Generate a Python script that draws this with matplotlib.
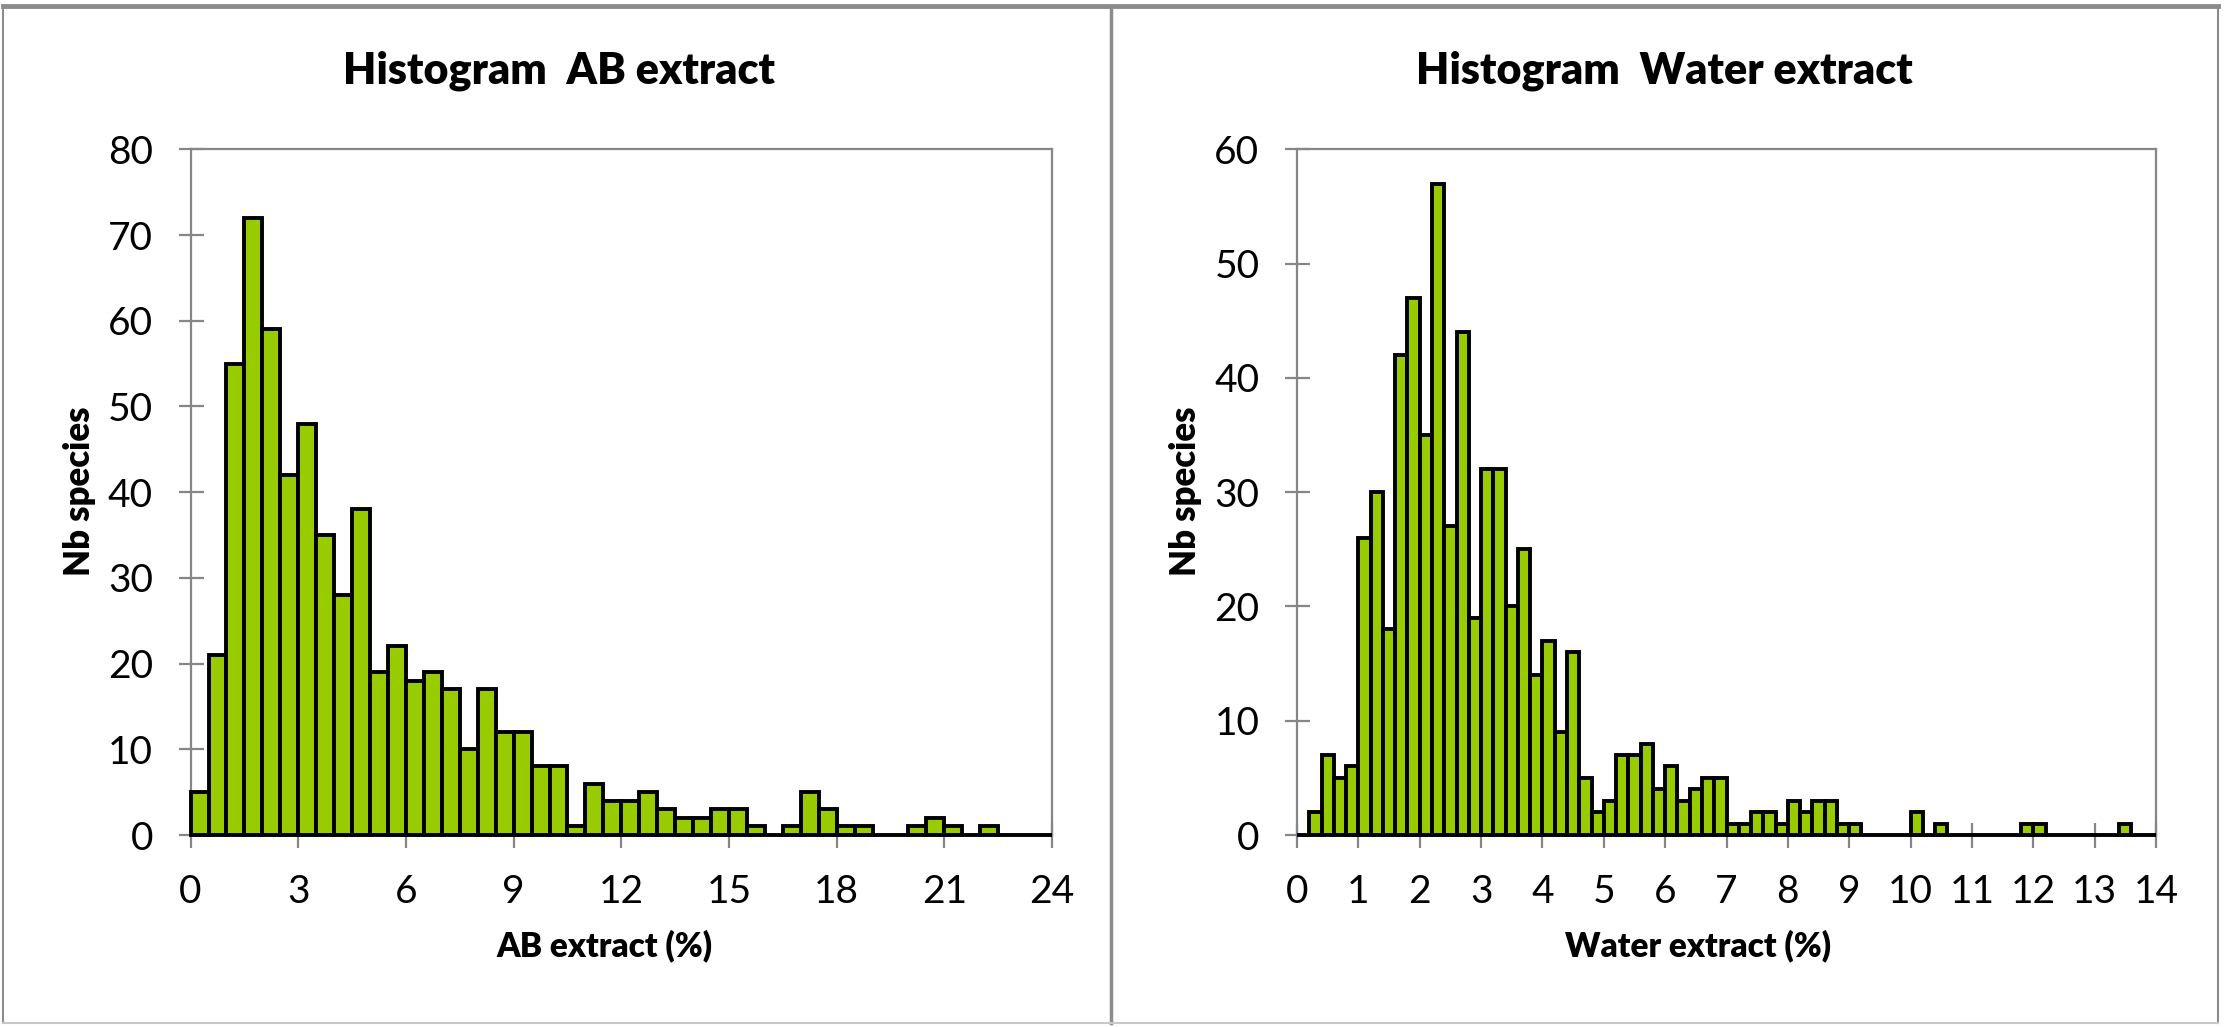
import numpy as np
import matplotlib.pyplot as plt
from matplotlib.lines import Line2D

plt.rcParams['font.family'] = ['Lato', 'DejaVu Sans']

# histogram counts, AB extract (bins of 0.5 % from 0 to 24)
ab_bin_width = 0.5
ab_counts = [5, 21, 55, 72, 59, 42, 48, 35, 28, 38,
             19, 22, 18, 19, 17, 10, 17, 12, 12, 8,
             8, 1, 6, 4, 4, 5, 3, 2, 2, 3,
             3, 1, 0, 1, 5, 3, 1, 1, 0, 0,
             1, 2, 1, 0, 1, 0, 0, 0]
ab_xticks = [0, 3, 6, 9, 12, 15, 18, 21, 24]
ab_yticks = [0, 10, 20, 30, 40, 50, 60, 70, 80]

# histogram counts, Water extract (bins of 0.2 % from 0 to 14)
water_bin_width = 0.2
water_counts = [0, 2, 7, 5, 6, 26, 30, 18, 42, 47,
                35, 57, 27, 44, 19, 32, 32, 20, 25, 14,
                17, 9, 16, 5, 2, 3, 7, 7, 8, 4,
                6, 3, 4, 5, 5, 1, 1, 2, 2, 1,
                3, 2, 3, 3, 1, 1, 0, 0, 0, 0,
                2, 0, 1, 0, 0, 0, 0, 0, 0, 1,
                1, 0, 0, 0, 0, 0, 0, 1, 0, 0]
water_xticks = list(range(0, 15))
water_yticks = [0, 10, 20, 30, 40, 50, 60]

bar_green = '#99cc00'
axis_gray = '#868686'
W, H = 2230, 1027

fig = plt.figure(figsize=(W / 100, H / 100), dpi=100)


def draw_hist(rect, counts, width, xticks, yticks, title, xlabel,
              title_x, xlabel_x, ylabel_x):
    ax = fig.add_axes(rect)
    starts = np.arange(len(counts)) * width
    ax.bar(starts, counts, width=width, align='edge', color=bar_green,
           edgecolor='black', linewidth=2.8, zorder=3, clip_on=False)
    ax.set_xlim(xticks[0], xticks[-1])
    ax.set_ylim(yticks[0], yticks[-1])
    ax.set_xticks(xticks)
    ax.set_yticks(yticks)
    for sp in ax.spines.values():
        sp.set_color(axis_gray)
        sp.set_linewidth(1.6)
    ax.tick_params(axis='both', direction='inout', length=18, width=1.6,
                   color=axis_gray, labelsize=28, labelcolor='black')
    ax.tick_params(axis='y', pad=18)
    ax.tick_params(axis='x', pad=19)
    # titles and labels, placed in figure pixels
    fig.text(title_x / W, 1 - 71 / H, title, fontsize=31, fontweight='heavy',
             ha='center', va='center')
    fig.text(xlabel_x / W, 1 - 946 / H, xlabel, fontsize=24,
             fontweight='heavy', ha='center', va='center')
    fig.text(ylabel_x / W, 1 - 491 / H, 'Nb species', fontsize=25,
             fontweight='heavy', ha='center', va='center', rotation=90)
    return ax


ax_bottom = (H - 835) / H
ax_height = (835 - 149.3) / H
draw_hist([190.6 / W, ax_bottom, (1052 - 190.6) / W, ax_height],
          ab_counts, ab_bin_width, ab_xticks, ab_yticks,
          'Histogram  AB extract', 'AB extract (%)', 559, 604, 79)
draw_hist([1297 / W, ax_bottom, (2156 - 1297) / W, ax_height],
          water_counts, water_bin_width, water_xticks, water_yticks,
          'Histogram  Water extract', 'Water extract (%)', 1664, 1698, 1185)

# panel frame around the two charts
frame = '#8c8c8c'
fig.add_artist(Line2D([3 / W, 2218 / W], [1 - 6 / H, 1 - 6 / H], color=frame, lw=3.5))
fig.add_artist(Line2D([3 / W, 3 / W], [1 - 6 / H, 1 - 1023 / H], color=frame, lw=1.5))
fig.add_artist(Line2D([1111 / W, 1111 / W], [1 - 6 / H, 1 - 1023 / H], color=frame, lw=2.5))
fig.add_artist(Line2D([2218 / W, 2218 / W], [1 - 6 / H, 1 - 1023 / H], color=frame, lw=1.5))
fig.add_artist(Line2D([3 / W, 2218 / W], [1 - 1023 / H, 1 - 1023 / H], color='#c8c8c8', lw=1.5))

fig.savefig('out.png', dpi=100)
